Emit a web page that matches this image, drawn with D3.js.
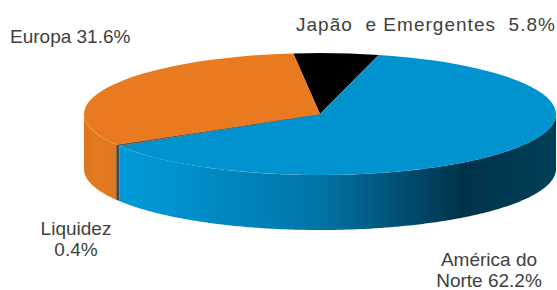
<!DOCTYPE html>
<html>
<head>
<meta charset="utf-8">
<script src="https://cdn.jsdelivr.net/npm/d3@7.9.0/dist/d3.min.js"></script>
<style>
  html, body { margin: 0; padding: 0; background: #fff; }
  svg { display: block; }
  text { font-family: "Liberation Sans", Arial, sans-serif; font-size: 19px; fill: #404040; }
</style>
</head>
<body>
<svg id="chart" width="557" height="290"></svg>
<script>
// regions in pie order (clockwise from the top)
const regions = ['Japão e Emergentes', 'América do Norte', 'Liquidez', 'Europa'];
const shares = [5.8, 62.2, 0.4, 31.6];
const labelLines = [
  ['Japão  e Emergentes  5.8%'],
  ['América do', 'Norte 62.2%'],
  ['Liquidez', '0.4%'],
  ['Europa 31.6%']
];

const topColors = ['#000000', '#0093d0', '#5a5a5a', '#e97a1f'];
const sideColors = ['#000000', 'url(#blueSide)', '#4a4a4a', 'url(#orangeSide)'];

const W = 557, H = 290;
const cx = 320, cy = 114, rx = 236, ry = 61, depth = 55;

const svg = d3.select('#chart');
const defs = svg.append('defs');

const blueGrad = defs.append('linearGradient')
  .attr('id', 'blueSide')
  .attr('gradientUnits', 'userSpaceOnUse')
  .attr('x1', cx - rx).attr('x2', cx + rx).attr('y1', 0).attr('y2', 0);
[[0, '#00a0e0'], [0.18, '#0093d0'], [0.5, '#0074a6'], [0.8, '#00334b'], [1, '#003f58']]
  .forEach(([o, c]) => blueGrad.append('stop').attr('offset', o).attr('stop-color', c));

const orangeGrad = defs.append('linearGradient')
  .attr('id', 'orangeSide')
  .attr('gradientUnits', 'userSpaceOnUse')
  .attr('x1', cx - rx).attr('x2', cx - rx + 40).attr('y1', 0).attr('y2', 0);
[[0, '#dc741d'], [0.3, '#e47b22'], [1, '#de761e']]
  .forEach(([o, c]) => orangeGrad.append('stop').attr('offset', o).attr('stop-color', c));

const start = -6.5 * Math.PI / 180;
const pie = d3.pie().sort(null).value(d => d).startAngle(start).endAngle(start + 2 * Math.PI);
const slices = pie(shares).map((s, i) => ({ ...s, i }));

// point on the top ellipse for an angle measured clockwise from the top
const px = a => cx + rx * Math.sin(a);
const py = a => cy - ry * Math.cos(a);

const line = d3.line();

// sides: only the front half of the cylinder is visible
function sidePath(a0, b0) {
  let a = a0, b = b0;
  while (a < 0) { a += 2 * Math.PI; b += 2 * Math.PI; }
  const lo = Math.max(a, Math.PI / 2), hi = Math.min(b, 3 * Math.PI / 2);
  if (hi <= lo) return null;
  const n = Math.max(2, Math.ceil((hi - lo) / 0.01));
  const top = d3.range(n + 1).map(k => lo + (hi - lo) * k / n);
  const pts = top.map(t => [px(t), py(t)])
    .concat(top.slice().reverse().map(t => [px(t), py(t) + depth]));
  return line(pts) + 'Z';
}

svg.append('g').selectAll('path')
  .data(slices.filter(s => sidePath(s.startAngle, s.endAngle)))
  .join('path')
  .attr('d', d => sidePath(d.startAngle, d.endAngle))
  .attr('fill', d => sideColors[d.i]);

// top faces via d3.arc on a squashed circle
const arc = d3.arc().innerRadius(0).outerRadius(rx);
svg.append('g')
  .attr('transform', `translate(${cx},${cy}) scale(1,${ry / rx})`)
  .selectAll('path')
  .data(slices)
  .join('path')
  .attr('d', arc)
  .attr('fill', d => topColors[d.i])
  .attr('stroke', d => d.i === 2 ? '#5a5a5a' : 'none')
  .attr('stroke-width', d => d.i === 2 ? 1.5 : 0);

// labels
const labelPos = [
  { x: 296, y: 31, anchor: 'start', len: 259 },
  { x: 489, y: 266, anchor: 'middle' },
  { x: 76, y: 235, anchor: 'middle' },
  { x: 10, y: 43, anchor: 'start' }
];

const lab = svg.append('g').selectAll('text')
  .data(slices)
  .join('text')
  .attr('x', d => labelPos[d.i].x)
  .attr('y', d => labelPos[d.i].y)
  .attr('text-anchor', d => labelPos[d.i].anchor);

lab.selectAll('tspan')
  .data(d => labelLines[d.i].map((t, k) => ({ t, k, x: labelPos[d.i].x, len: labelPos[d.i].len })))
  .join('tspan')
  .attr('x', d => d.x)
  .attr('dy', d => d.k === 0 ? 0 : 21)
  .attr('textLength', d => d.len || null)
  .attr('lengthAdjust', d => d.len ? 'spacing' : null)
  .style('white-space', 'pre')
  .text(d => d.t);
</script>
</body>
</html>
